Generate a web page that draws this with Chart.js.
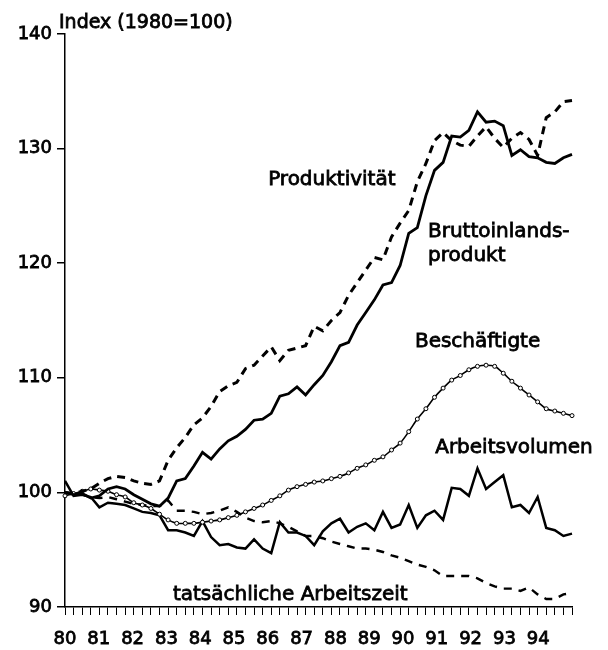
<!DOCTYPE html>
<html>
<head>
<meta charset="utf-8">
<script src="https://cdn.jsdelivr.net/npm/chart.js@4.4.1/dist/chart.umd.min.js"></script>
<style>
  html, body { margin: 0; padding: 0; background: #fff; }
  canvas { display: block; }
</style>
</head>
<body>
<canvas id="chart" width="608" height="650"></canvas>
<script>
// quarterly values, 1980 Q1 .. 1994 Q4, index 1980 = 100
const years = [80, 81, 82, 83, 84, 85, 86, 87, 88, 89, 90, 91, 92, 93, 94];

const produktivitaet = [
    100.0, 99.9, 100.1, 100.3, 100.8, 101.2, 101.4, 101.3, 101.0, 100.8, 100.7, 101.0,
    102.8, 103.9, 104.8, 105.9, 106.5, 107.5, 108.8, 109.3, 109.6, 110.8, 111.1, 111.9,
    112.7, 111.5, 112.4, 112.6, 112.8, 114.5, 114.1, 115.0, 115.7, 117.2, 118.3, 119.4,
    120.5, 120.3, 122.3, 123.5, 124.6, 127.1, 128.7, 130.7, 131.4, 130.7, 130.3, 130.2,
    131.1, 131.9, 130.9, 130.1, 130.9, 131.4, 130.8, 129.4, 132.7, 133.2, 134.1, 134.2
];
const bip = [
    100.0, 99.8, 99.9, 99.5, 99.7, 100.3, 100.5, 100.3, 99.8, 99.4, 99.0, 98.8,
    99.5, 101.0, 101.2, 102.3, 103.5, 102.9, 103.8, 104.5, 104.9, 105.5, 106.3, 106.4,
    106.9, 108.4, 108.6, 109.2, 108.5, 109.4, 110.2, 111.4, 112.8, 113.1, 114.6, 115.7,
    116.8, 118.1, 118.3, 119.8, 122.6, 123.1, 125.9, 128.1, 128.8, 131.1, 131.0, 131.6,
    133.2, 132.3, 132.4, 132.0, 129.4, 129.9, 129.3, 129.2, 128.8, 128.7, 129.2, 129.5
];
const beschaeftigte = [
    99.7, 99.9, 100.1, 100.3, 100.2, 100.1, 99.8, 99.6, 99.1, 98.9, 98.6, 98.1,
    97.6, 97.3, 97.3, 97.3, 97.4, 97.5, 97.6, 97.8, 98.0, 98.3, 98.6, 98.9,
    99.3, 99.7, 100.2, 100.5, 100.7, 100.9, 101.0, 101.2, 101.4, 101.7, 102.1, 102.4,
    102.8, 103.1, 103.7, 104.3, 105.3, 106.4, 107.3, 108.3, 109.1, 109.8, 110.2, 110.7,
    111.0, 111.1, 111.0, 110.4, 109.7, 109.1, 108.5, 107.9, 107.3, 107.1, 106.9, 106.7
];
const arbeitsvolumen = [
    101.0, 99.7, 99.8, 99.6, 98.7, 99.1, 99.0, 98.9, 98.6, 98.3, 98.2, 98.0,
    96.7, 96.7, 96.5, 96.2, 97.5, 96.1, 95.4, 95.5, 95.2, 95.1, 95.9, 95.1,
    94.7, 97.4, 96.5, 96.5, 96.2, 95.4, 96.6, 97.3, 97.7, 96.5, 97.0, 97.3,
    96.7, 98.3, 96.9, 97.2, 98.9, 96.9, 98.0, 98.4, 97.6, 100.4, 100.3, 99.7,
    102.1, 100.3, 100.9, 101.5, 98.7, 98.9, 98.2, 99.6, 96.9, 96.7, 96.2, 96.4
];
const arbeitszeit = [
    100.0, 99.9, 99.8, 99.6, 99.5, 99.6, 99.4, 99.2, 99.0, 98.9, 98.8, 98.8,
    99.3, 98.4, 98.4, 98.3, 98.1, 98.2, 98.4, 98.7, 98.3, 97.8, 97.5, 97.4,
    97.5, 97.3, 97.0, 96.6, 96.2, 96.2, 96.0, 95.7, 95.5, 95.3, 95.1, 95.1,
    95.0, 94.8, 94.5, 94.3, 94.0, 93.7, 93.5, 93.2, 92.7, 92.7, 92.7, 92.7,
    92.5, 92.1, 91.8, 91.6, 91.6, 91.4, 91.7, 91.1, 90.7, 90.7, 91.1, 91.2
];

const quarters = years.flatMap(y => [y, y + 0.25, y + 0.5, y + 0.75]);
const toPoints = vals => vals.map((v, i) => ({x: quarters[i], y: v}));

// in-plot series captions, anchored in data units
const captions = [
    {text: 'Produktivität', x: 85.91, y: 126.8},
    {text: 'Bruttoinlands-', x: 90.56, y: 122.3},
    {text: 'produkt', x: 90.56, y: 120.2},
    {text: 'Beschäftigte', x: 90.18, y: 112.7},
    {text: 'Arbeitsvolumen', x: 90.77, y: 103.4},
    {text: 'tatsächliche Arbeitszeit', x: 83.14, y: 90.6}
];

const FONT = '"DejaVu Sans", sans-serif';
Chart.defaults.font.family = FONT;
Chart.defaults.color = '#000';

// scanned print looks heavier than plain regular weight
const heavy = {textStrokeColor: '#000', textStrokeWidth: 0.8};

const captionPlugin = {
    id: 'captions',
    afterDatasetsDraw(chart) {
        const {ctx, scales, chartArea} = chart;
        ctx.save();
        ctx.fillStyle = '#000';
        ctx.strokeStyle = '#000';
        ctx.lineWidth = 0.8;
        ctx.textBaseline = 'alphabetic';
        ctx.textAlign = 'left';
        ctx.font = '20px ' + FONT;
        captions.forEach(c => {
            const px = scales.x.getPixelForValue(c.x);
            const py = scales.y.getPixelForValue(c.y);
            ctx.fillText(c.text, px, py);
            ctx.strokeText(c.text, px, py);
        });
        ctx.font = '19px ' + FONT;
        ctx.fillText('Index (1980=100)', chartArea.left - 6, chartArea.top - 6);
        ctx.strokeText('Index (1980=100)', chartArea.left - 6, chartArea.top - 6);
        ctx.restore();
    }
};

const lineSet = (data, width, dash) => ({
    data: toPoints(data),
    borderColor: '#000',
    borderWidth: width,
    borderDash: dash || [],
    pointRadius: 0,
    tension: 0,
    clip: 4
});

const beschSet = {
    data: toPoints(beschaeftigte),
    borderColor: '#000',
    borderWidth: 1.6,
    pointRadius: 2,
    pointBorderWidth: 1,
    pointBackgroundColor: '#fff',
    pointBorderColor: '#000',
    tension: 0.3,
    clip: 4
};

new Chart(document.getElementById('chart'), {
    type: 'line',
    data: {
        datasets: [
            lineSet(produktivitaet, 3, [8, 6]),
            lineSet(bip, 2.8),
            beschSet,
            lineSet(arbeitsvolumen, 2.5),
            lineSet(arbeitszeit, 2.4, [8, 7])
        ]
    },
    options: {
        responsive: false,
        animation: false,
        devicePixelRatio: 1,
        layout: {padding: {top: 34, right: 36, left: 0, bottom: 0}},
        plugins: {legend: {display: false}, tooltip: {enabled: false}},
        scales: {
            x: {
                type: 'linear',
                position: 'bottom',
                min: 80,
                max: 94.75,
                afterFit: s => { s.height = 8; },
                ticks: {stepSize: 0.25, autoSkip: false, callback: () => '', padding: 0},
                grid: {drawOnChartArea: false, drawTicks: true, tickLength: 8, color: '#000', lineWidth: 1},
                border: {color: '#000', width: 1.5}
            },
            xl: {
                type: 'linear',
                position: 'bottom',
                min: 80,
                max: 95,
                afterFit: s => { s.height = 35; },
                ticks: {
                    stepSize: 1,
                    autoSkip: false,
                    maxRotation: 0,
                    padding: 14,
                    font: {size: 18},
                    ...heavy,
                    callback: v => years.includes(v) ? String(v) : ''
                },
                grid: {display: false, drawTicks: false},
                border: {display: false}
            },
            y: {
                min: 90,
                max: 140,
                afterFit: s => { s.width = 65; },
                ticks: {stepSize: 10, padding: 5, font: {size: 18}, ...heavy},
                grid: {drawOnChartArea: false, drawTicks: true, tickLength: 8, color: '#000', lineWidth: 1.5},
                border: {color: '#000', width: 1.5}
            }
        }
    },
    plugins: [captionPlugin]
});
</script>
</body>
</html>
